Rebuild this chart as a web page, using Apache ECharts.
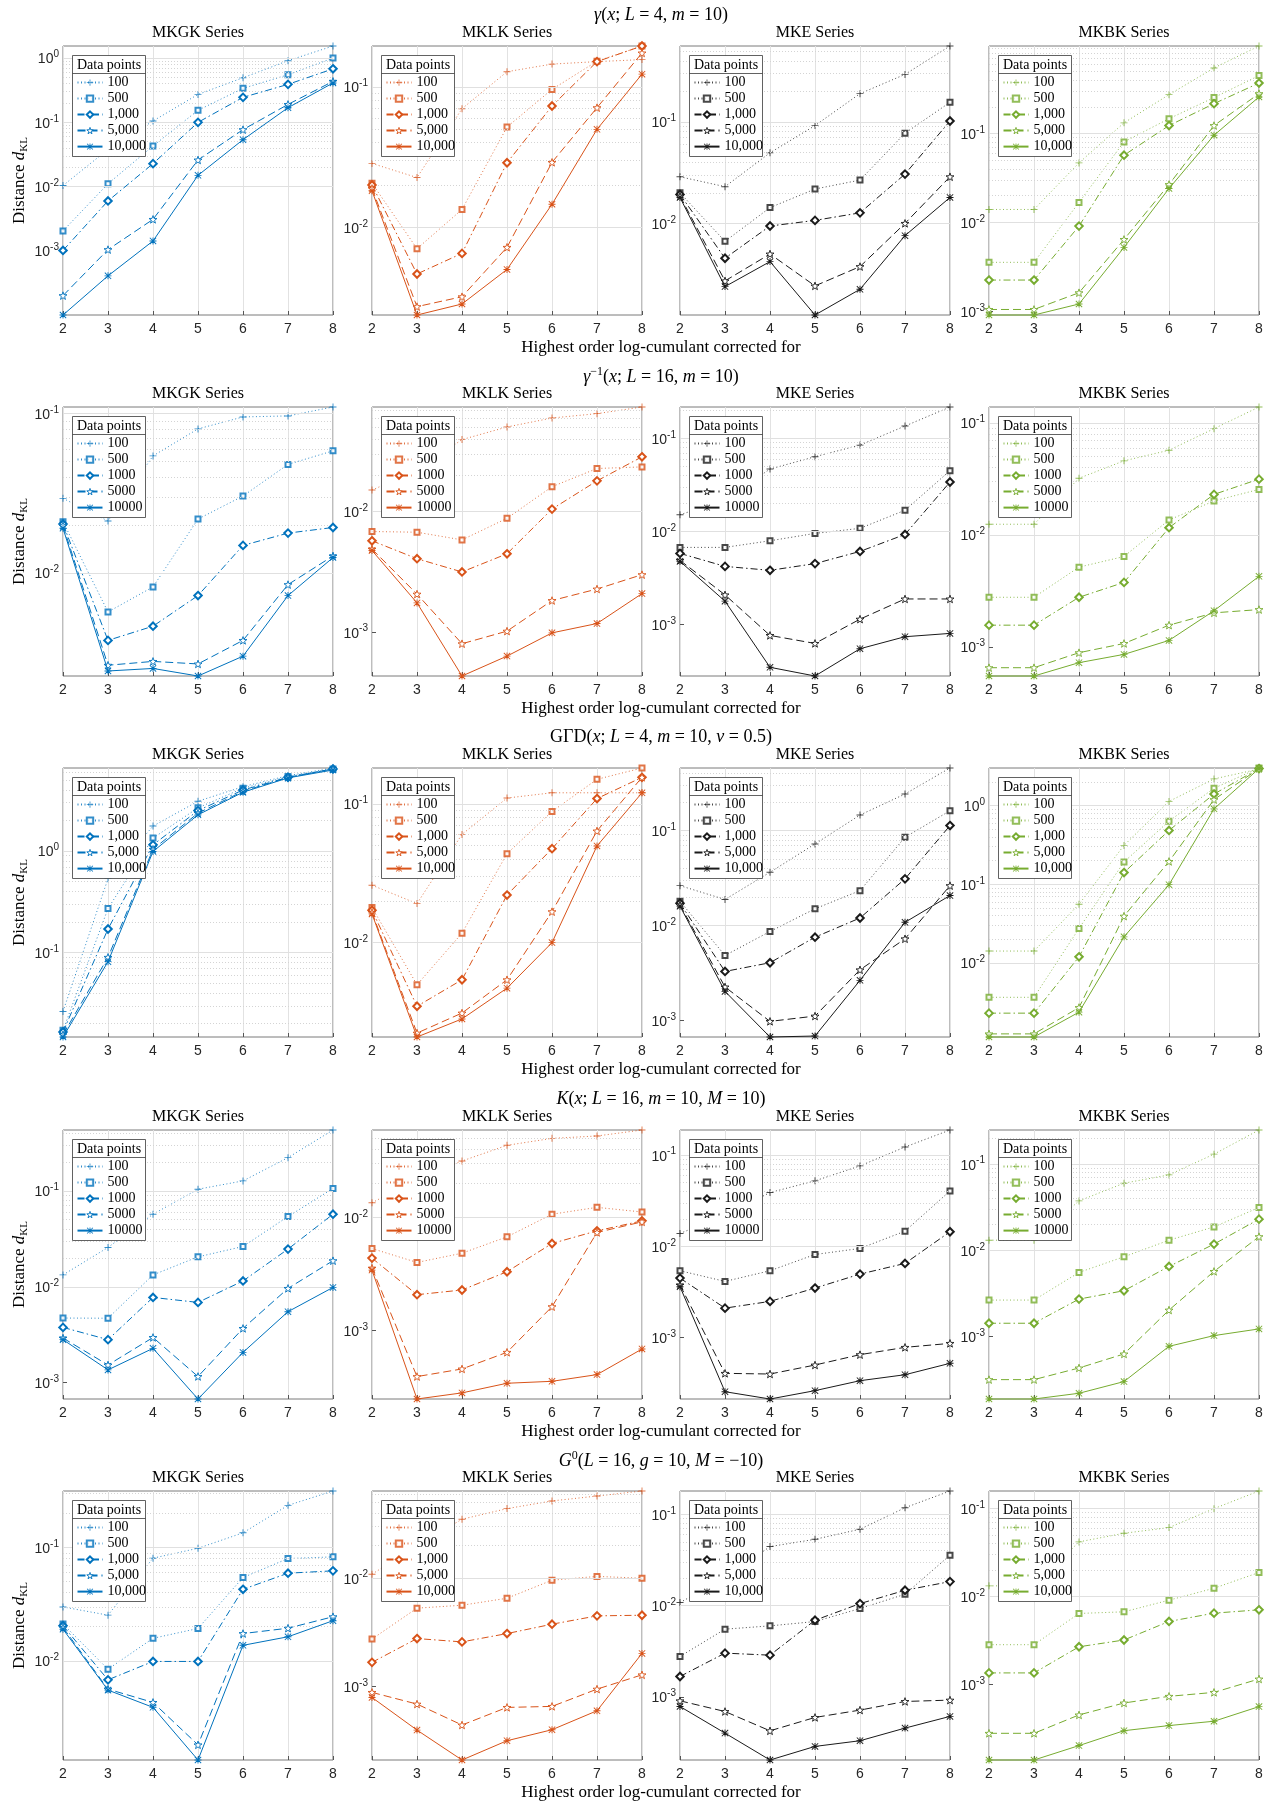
<!DOCTYPE html>
<html><head><meta charset="utf-8">
<script src="https://cdn.jsdelivr.net/npm/echarts@6/dist/echarts.min.js"></script>
<style>html,body{margin:0;padding:0;background:#fff}#c{width:1271px;height:1804px}</style>
</head><body><div id="c"></div>
<script>
// ---------- categories / labels ----------
const orders = [2, 3, 4, 5, 6, 7, 8];
const colTitles = ['MKGK Series', 'MKLK Series', 'MKE Series', 'MKBK Series'];
const pointsComma = ['100', '500', '1,000', '5,000', '10,000'];
const pointsPlain = ['100', '500', '1000', '5000', '10000'];
const rowLegend = [pointsComma, pointsPlain, pointsComma, pointsPlain, pointsComma];
const xAxisLabel = 'Highest order log-cumulant corrected for';

// ---------- data: rows are 100, 500, 1000, 5000, 10000 data points ----------
// Row 1: gamma(x; L=4, m=10)
const gamma_MKGK = [
  [0.0104, 0.038, 0.105, 0.272, 0.494, 0.91, 1.54],
  [0.00205, 0.0111, 0.0429, 0.154, 0.338, 0.55, 1.0],
  [0.00102, 0.006, 0.0228, 0.1, 0.245, 0.39, 0.68],
  [0.000202, 0.00105, 0.0031, 0.026, 0.077, 0.19, 0.434],
  [0.000101, 0.00041, 0.00143, 0.015, 0.0538, 0.169, 0.41]];
const gamma_MKLK = [
  [0.0285, 0.0226, 0.0698, 0.128, 0.145, 0.151, 0.156],
  [0.0206, 0.00705, 0.0134, 0.0517, 0.0958, 0.152, 0.195],
  [0.02, 0.00466, 0.00653, 0.0288, 0.073, 0.151, 0.195],
  [0.0189, 0.00273, 0.00321, 0.00721, 0.029, 0.071, 0.174],
  [0.0182, 0.00238, 0.00285, 0.00502, 0.0146, 0.0498, 0.123]];
const gamma_MKE = [
  [0.0288, 0.023, 0.0496, 0.092, 0.19, 0.294, 0.56],
  [0.02, 0.00665, 0.0143, 0.0218, 0.0267, 0.0774, 0.156],
  [0.0193, 0.00453, 0.00942, 0.0107, 0.0127, 0.0306, 0.102],
  [0.0186, 0.00271, 0.00499, 0.00242, 0.00375, 0.01, 0.0288],
  [0.018, 0.00238, 0.0042, 0.00125, 0.00224, 0.00757, 0.018]];
const gamma_MKBK = [
  [0.014, 0.014, 0.0468, 0.132, 0.274, 0.547, 0.966],
  [0.00356, 0.00356, 0.0168, 0.0806, 0.147, 0.254, 0.449],
  [0.00225, 0.00225, 0.0091, 0.0571, 0.123, 0.217, 0.37],
  [0.00105, 0.00105, 0.00162, 0.00644, 0.0267, 0.123, 0.281],
  [0.00091, 0.00091, 0.00121, 0.00524, 0.0241, 0.0958, 0.258]];

// Row 2: inverse gamma(x; L=16, m=10)
const invgamma_MKGK = [
  [0.0294, 0.0212, 0.0543, 0.0802, 0.0953, 0.0967, 0.11],
  [0.021, 0.0057, 0.00818, 0.0218, 0.0304, 0.048, 0.0584],
  [0.0203, 0.00378, 0.00464, 0.00722, 0.0149, 0.0178, 0.0193],
  [0.0198, 0.00264, 0.00279, 0.00269, 0.00378, 0.00846, 0.0128],
  [0.0191, 0.00243, 0.00252, 0.00226, 0.00301, 0.00722, 0.0125]];
const invgamma_MKLK = [
  [0.0151, 0.022, 0.0396, 0.0504, 0.0598, 0.065, 0.0738],
  [0.00684, 0.00675, 0.00583, 0.0088, 0.0161, 0.0228, 0.0235],
  [0.00573, 0.00407, 0.00316, 0.00447, 0.0105, 0.018, 0.0285],
  [0.00489, 0.00207, 0.000802, 0.00102, 0.00183, 0.00228, 0.003],
  [0.00476, 0.00175, 0.000433, 0.000633, 0.000987, 0.00118, 0.00209]];
const invgamma_MKE = [
  [0.0151, 0.022, 0.0469, 0.0637, 0.0849, 0.136, 0.218],
  [0.00674, 0.00674, 0.00794, 0.00953, 0.0108, 0.0169, 0.0451],
  [0.00581, 0.00421, 0.00382, 0.00451, 0.0061, 0.00929, 0.034],
  [0.00489, 0.00208, 0.000762, 0.000625, 0.00114, 0.00188, 0.00188],
  [0.00477, 0.00178, 0.000346, 0.000279, 0.000548, 0.000738, 0.000801]];
const invgamma_MKBK = [
  [0.01245, 0.01245, 0.0321, 0.0459, 0.0571, 0.089, 0.139],
  [0.00277, 0.00277, 0.00515, 0.00641, 0.0136, 0.0201, 0.0255],
  [0.00156, 0.00156, 0.00277, 0.00376, 0.0116, 0.023, 0.0315],
  [0.00065, 0.00065, 0.000885, 0.00107, 0.00156, 0.00201, 0.00215],
  [0.000548, 0.000548, 0.000721, 0.000855, 0.00114, 0.0021, 0.00426]];

// Row 3: GGD(x; L=4, m=10, nu=0.5)
const ggd_MKGK = [
  [0.0264, 0.535, 1.76, 3.09, 4.3, 5.52, 6.56],
  [0.0172, 0.272, 1.34, 2.66, 4.15, 5.4, 6.42],
  [0.0166, 0.171, 1.15, 2.5, 3.99, 5.31, 6.42],
  [0.0156, 0.09, 1.04, 2.36, 3.87, 5.31, 6.42],
  [0.0148, 0.0816, 0.99, 2.27, 3.79, 5.24, 6.27]];
const ggd_MKLK = [
  [0.0259, 0.0191, 0.0602, 0.11, 0.12, 0.12, 0.12],
  [0.0179, 0.00497, 0.0117, 0.0437, 0.088, 0.15, 0.181],
  [0.0171, 0.00348, 0.0054, 0.022, 0.0475, 0.109, 0.155],
  [0.0165, 0.00223, 0.00311, 0.0054, 0.0167, 0.0637, 0.155],
  [0.0161, 0.00209, 0.00282, 0.0047, 0.01, 0.0497, 0.12]];
const ggd_MKE = [
  [0.0263, 0.0188, 0.0364, 0.0724, 0.146, 0.243, 0.457],
  [0.018, 0.00483, 0.00865, 0.015, 0.0233, 0.0851, 0.162],
  [0.0172, 0.00328, 0.00405, 0.00753, 0.012, 0.031, 0.113],
  [0.0165, 0.00225, 0.000976, 0.00111, 0.00341, 0.00724, 0.0263],
  [0.016, 0.00202, 0.000668, 0.000684, 0.00264, 0.0108, 0.0207]];
const ggd_MKBK = [
  [0.0142, 0.0142, 0.0558, 0.312, 1.13, 2.18, 2.91],
  [0.00367, 0.00367, 0.0275, 0.192, 0.634, 1.66, 3.0],
  [0.00231, 0.00231, 0.012, 0.141, 0.483, 1.4, 2.95],
  [0.00126, 0.00126, 0.00272, 0.0394, 0.195, 1.19, 2.95],
  [0.00115, 0.00115, 0.00238, 0.0215, 0.099, 0.908, 2.95]];

// Row 4: K(x; L=16, m=10, M=10)
const k_MKGK = [
  [0.0133, 0.0257, 0.0571, 0.104, 0.127, 0.222, 0.431],
  [0.00472, 0.0047, 0.0133, 0.0205, 0.0263, 0.054, 0.106],
  [0.00377, 0.00281, 0.00774, 0.00687, 0.0115, 0.0247, 0.0571],
  [0.00292, 0.00153, 0.00296, 0.00116, 0.00368, 0.00962, 0.0187],
  [0.00281, 0.00136, 0.00228, 0.000676, 0.00207, 0.0055, 0.00985]];
const k_MKLK = [
  [0.0135, 0.022, 0.0316, 0.0435, 0.0501, 0.0526, 0.0594],
  [0.00532, 0.00401, 0.00484, 0.00675, 0.0107, 0.0123, 0.0112],
  [0.00438, 0.00208, 0.00229, 0.00332, 0.0059, 0.00763, 0.00935],
  [0.00357, 0.000393, 0.000459, 0.000644, 0.00163, 0.00738, 0.00916],
  [0.00343, 0.000249, 0.000282, 0.000343, 0.000357, 0.000409, 0.000689]];
const k_MKE = [
  [0.0139, 0.022, 0.039, 0.0524, 0.0764, 0.123, 0.189],
  [0.00542, 0.00414, 0.00542, 0.00817, 0.00951, 0.0147, 0.0406],
  [0.0045, 0.00211, 0.0025, 0.0035, 0.00498, 0.00652, 0.0145],
  [0.00378, 0.000407, 0.0004, 0.000502, 0.000652, 0.000784, 0.000867],
  [0.00362, 0.000256, 0.000213, 0.000263, 0.000338, 0.000393, 0.000524]];
const k_MKBK = [
  [0.0131, 0.0131, 0.0375, 0.0602, 0.0752, 0.131, 0.25],
  [0.00264, 0.00264, 0.00553, 0.00841, 0.0131, 0.0187, 0.0314],
  [0.00142, 0.00142, 0.00271, 0.00339, 0.00649, 0.0118, 0.023],
  [0.000314, 0.000314, 0.000429, 0.000624, 0.00202, 0.00568, 0.0144],
  [0.000187, 0.000187, 0.000218, 0.000298, 0.000766, 0.00102, 0.00122]];

// Row 5: G0(L=16, g=10, M=-10)
const g0_MKGK = [
  [0.0299, 0.0253, 0.0806, 0.0986, 0.135, 0.236, 0.316],
  [0.0211, 0.00843, 0.0158, 0.0193, 0.0544, 0.08, 0.0828],
  [0.0204, 0.00679, 0.00987, 0.00987, 0.0428, 0.0594, 0.0623],
  [0.0197, 0.00562, 0.00429, 0.00181, 0.0174, 0.0194, 0.0245],
  [0.019, 0.00551, 0.00388, 0.00133, 0.0137, 0.0163, 0.0226]];
const g0_MKLK = [
  [0.0109, 0.02, 0.0351, 0.044, 0.0518, 0.0575, 0.064],
  [0.00274, 0.00529, 0.00563, 0.00653, 0.00959, 0.0104, 0.01],
  [0.00167, 0.00277, 0.00258, 0.00308, 0.00376, 0.00449, 0.00455],
  [0.000881, 0.000687, 0.00044, 0.00064, 0.000654, 0.000944, 0.00128],
  [0.000791, 0.000395, 0.000209, 0.000315, 0.000398, 0.000596, 0.00202]];
const g0_MKE = [
  [0.0108, 0.02, 0.0443, 0.0532, 0.0686, 0.118, 0.18],
  [0.00277, 0.00551, 0.00599, 0.00668, 0.00927, 0.0133, 0.0356],
  [0.00167, 0.00301, 0.00286, 0.0069, 0.0105, 0.0147, 0.0183],
  [0.000904, 0.00069, 0.000424, 0.000594, 0.000715, 0.000889, 0.00092],
  [0.000783, 0.0004, 0.000203, 0.000286, 0.00033, 0.000454, 0.00061]];
const g0_MKBK = [
  [0.0132, 0.0132, 0.0416, 0.0521, 0.0604, 0.0991, 0.157],
  [0.00284, 0.00284, 0.00642, 0.0067, 0.00908, 0.0124, 0.0187],
  [0.00136, 0.00136, 0.00269, 0.00321, 0.00521, 0.00647, 0.00706],
  [0.000281, 0.000281, 0.000454, 0.00062, 0.000738, 0.000818, 0.00116],
  [0.00014, 0.00014, 0.000204, 0.000301, 0.000344, 0.000385, 0.000564]];

const panels = [
  [gamma_MKGK, gamma_MKLK, gamma_MKE, gamma_MKBK],
  [invgamma_MKGK, invgamma_MKLK, invgamma_MKE, invgamma_MKBK],
  [ggd_MKGK, ggd_MKLK, ggd_MKE, ggd_MKBK],
  [k_MKGK, k_MKLK, k_MKE, k_MKBK],
  [g0_MKGK, g0_MKLK, g0_MKE, g0_MKBK]];

const rowTitles = [
  '{i|γ}{n|(}{i|x}{n|; }{i|L}{n| = 4, }{i|m}{n| = 10)}',
  '{i|γ}{sup|−1}{n|(}{i|x}{n|; }{i|L}{n| = 16, }{i|m}{n| = 10)}',
  '{n|GΓD(}{i|x}{n|; }{i|L}{n| = 4, }{i|m}{n| = 10, }{i|ν}{n| = 0.5)}',
  '{i|K}{n|(}{i|x}{n|; }{i|L}{n| = 16, }{i|m}{n| = 10, }{i|M}{n| = 10)}',
  '{i|G}{sup|0}{n|(}{i|L}{n| = 16, }{i|g}{n| = 10, }{i|M}{n| = −10)}'];

// ---------- styling ----------
const colors = ['#0072BD', '#D95319', '#1a1a1a', '#77AC30'];
const gridLefts = [63, 372, 680, 989];
const gridTops = [46, 407, 768, 1130, 1491];
const GW = 270, GH = 269;
const SERIF = '"Liberation Serif", "DejaVu Serif", serif';
const SANS = '"Liberation Sans", Arial, sans-serif';

function starPath() {
  let s = 'path://';
  for (let i = 0; i < 10; i++) {
    const r = i % 2 ? 0.4 : 1;
    const a = -Math.PI / 2 + i * Math.PI / 5;
    s += (i ? 'L' : 'M') + (10 + 10 * r * Math.cos(a)).toFixed(2) + ',' + (10 + 10 * r * Math.sin(a)).toFixed(2);
  }
  return s + 'Z';
}
const PLUS = 'path://M4.35,0h1.3v4.35h4.35v1.3h-4.35v4.35h-1.3v-4.35h-4.35v-1.3h4.35z';
const AST = 'path://M4.35,0h1.3v4.35h4.35v1.3h-4.35v4.35h-1.3v-4.35h-4.35v-1.3h4.35z M0,0.9L0.9,0L10,9.1L9.1,10Z M9.1,0L10,0.9L0.9,10L0,9.1Z';
const STAR = starPath();
const styles = [
  { symbol: PLUS, size: 7, dash: [1, 2.5], kind: 'fill', op: 0.8 },
  { symbol: 'emptyRect', size: 5, dash: [1, 2.5], kind: 'empty', op: 0.8 },
  { symbol: 'emptyDiamond', size: 7.5, dash: [7, 3, 1.5, 3], kind: 'empty', op: 1 },
  { symbol: STAR, size: 8, dash: [8, 4], kind: 'star', op: 1 },
  { symbol: AST, size: 7, dash: 'solid', kind: 'fill', op: 1 }];

const grid = [], xAxis = [], yAxis = [], series = [], legend = [], graphic = [];

function supLabel(v) {
  const e = Math.round(Math.log10(v));
  return '{b|10}{s|' + (e < 0 ? '-' : '') + Math.abs(e) + '}';
}

for (let r = 0; r < 5; r++) {
  const gt = gridTops[r];
  graphic.push({ type: 'text', x: 661, y: gt - 31, z: 50, style: {
    text: rowTitles[r], align: 'center', verticalAlign: 'middle', fill: '#000',
    rich: {
      n: { fontFamily: SERIF, fontSize: 18, fill: '#000', verticalAlign: 'bottom' },
      i: { fontFamily: SERIF, fontSize: 18, fontStyle: 'italic', fill: '#000', verticalAlign: 'bottom' },
      sup: { fontFamily: SERIF, fontSize: 12, fill: '#000', verticalAlign: 'bottom', padding: [0, 0, 9, 0] }
    } } });
  graphic.push({ type: 'text', x: 661, y: gt + GH + 33, z: 50, style: {
    text: xAxisLabel, align: 'center', verticalAlign: 'middle', fill: '#000',
    font: '17px ' + SERIF } });

  for (let c = 0; c < 4; c++) {
    const p = r * 4 + c;
    const gl = gridLefts[c];
    const vals = panels[r][c];
    const flat = vals.flat();
    const lo = Math.min(...flat), hi = Math.max(...flat);
    const col = colors[c];

    grid.push({ left: gl, top: gt, width: GW, height: GH, show: true, borderColor: '#7a7a7a', borderWidth: 1, backgroundColor: 'transparent' });

    // decade + minor gridline positions within axis range
    const decades = [], gridVals = [];
    for (let e = Math.floor(Math.log10(lo)); e <= Math.ceil(Math.log10(hi)); e++) {
      for (let k = 1; k <= 9; k++) {
        const v = k * Math.pow(10, e);
        if (v > lo * 1.0001 && v < hi * 0.9999) {
          gridVals.push({ v, major: k === 1 });
          if (k === 1) decades.push(v);
        }
      }
    }

    xAxis.push({ type: 'value', gridIndex: p, min: 2, max: 8, interval: 1,
      axisLine: { show: false },
      axisTick: { inside: true, length: 4, lineStyle: { color: '#555' } },
      axisLabel: { fontFamily: SANS, fontSize: 14, color: '#262626', margin: 7 },
      splitLine: { show: true, lineStyle: { color: '#e2e2e2', width: 1 } } });

    const ya = { type: 'log', gridIndex: p, logBase: 10, min: lo, max: hi,
      axisLine: { show: false },
      axisTick: { show: true, inside: true, length: 4, customValues: decades, lineStyle: { color: '#555' } },
      axisLabel: { customValues: decades, margin: 4, formatter: supLabel, color: '#262626',
        rich: {
          b: { fontFamily: SANS, fontSize: 14, color: '#262626', verticalAlign: 'bottom' },
          s: { fontFamily: SANS, fontSize: 10, color: '#262626', verticalAlign: 'bottom', padding: [0, 0, 7, 0] }
        } },
      splitLine: { show: false }, minorTick: { show: false }, minorSplitLine: { show: false } };
    if (c === 0) {
      ya.name = '{n|Distance }{i|d}{s|KL}';
      ya.nameLocation = 'middle';
      ya.nameGap = 33;
      ya.nameTextStyle = { rich: {
        n: { fontFamily: SERIF, fontSize: 17, color: '#000', verticalAlign: 'top' },
        i: { fontFamily: SERIF, fontSize: 17, fontStyle: 'italic', color: '#000', verticalAlign: 'top' },
        s: { fontFamily: SERIF, fontSize: 11, color: '#000', verticalAlign: 'top', padding: [8, 0, 0, 0] }
      } };
    }
    yAxis.push(ya);

    // gridlines (major solid, minor dotted) drawn through the axis scale
    series.push({ type: 'line', xAxisIndex: p, yAxisIndex: p, data: [], silent: true, z: 1,
      animation: false, emphasis: { disabled: true },
      markLine: { silent: true, symbol: ['none', 'none'], animation: false, label: { show: false },
        emphasis: { disabled: true },
        data: gridVals.map(g => ({ yAxis: g.v, lineStyle: g.major
          ? { color: '#e0e0e0', type: 'solid', width: 1 }
          : { color: '#d4d4d4', type: [1, 2], width: 1 } })) } });

    const labels = rowLegend[r];
    const legendData = [];
    for (let k = 0; k < 5; k++) {
      const st = styles[k];
      const name = p + '|' + labels[k];
      let itemStyle;
      if (st.kind === 'fill') itemStyle = { color: col, borderWidth: 0, opacity: st.op };
      else if (st.kind === 'star') itemStyle = { color: '#fff', borderColor: col, borderWidth: 0.9 };
      else itemStyle = { color: col, borderWidth: 1, opacity: st.op };
      legendData.push(st.kind === 'star'
        ? { name, itemStyle: { color: '#fff', borderColor: col, borderWidth: 0.9 } }
        : { name });
      series.push({ name, type: 'line', xAxisIndex: p, yAxisIndex: p,
        data: orders.map((x, j) => [x, vals[k][j]]),
        symbol: st.symbol, symbolSize: st.size, symbolKeepAspect: true, showSymbol: true,
        lineStyle: { color: col, width: 1, type: st.dash, opacity: st.op },
        itemStyle, z: 3 + k, clip: false, silent: true, animation: false,
        emphasis: { disabled: true } });
    }

    legend.push({ show: true, orient: 'vertical', left: gl + 13.5, top: gt + 29.6,
      itemWidth: 25, itemHeight: 8, itemGap: 2, padding: 0, selectedMode: false, z: 40,
      data: legendData, formatter: n => n.split('|')[1],
      textStyle: { fontFamily: SERIF, fontSize: 14, color: '#000', lineHeight: 14 } });

    // legend frame + header
    graphic.push({ type: 'rect', z: 30, shape: { x: gl + 9.5, y: gt + 9.5, width: 73, height: 101 },
      style: { fill: '#fff', stroke: '#3a3a3a', lineWidth: 0.8 } });
    graphic.push({ type: 'line', z: 31, shape: { x1: gl + 9.5, y1: gt + 27.5, x2: gl + 82.5, y2: gt + 27.5 },
      style: { stroke: '#3a3a3a', lineWidth: 0.8 } });
    graphic.push({ type: 'text', z: 31, x: gl + 46, y: gt + 19, style: { text: 'Data points',
      align: 'center', verticalAlign: 'middle', font: '14px ' + SERIF, fill: '#000' } });
    // subplot title
    graphic.push({ type: 'text', z: 31, x: gl + GW / 2, y: gt - 13, style: { text: colTitles[c],
      align: 'center', verticalAlign: 'middle', font: '16px ' + SERIF, fill: '#000' } });
  }
}

const chart = echarts.init(document.getElementById('c'), null, { renderer: 'canvas' });
chart.setOption({ animation: false, backgroundColor: '#fff', grid, xAxis, yAxis, series, legend, graphic });
</script>
</body></html>
